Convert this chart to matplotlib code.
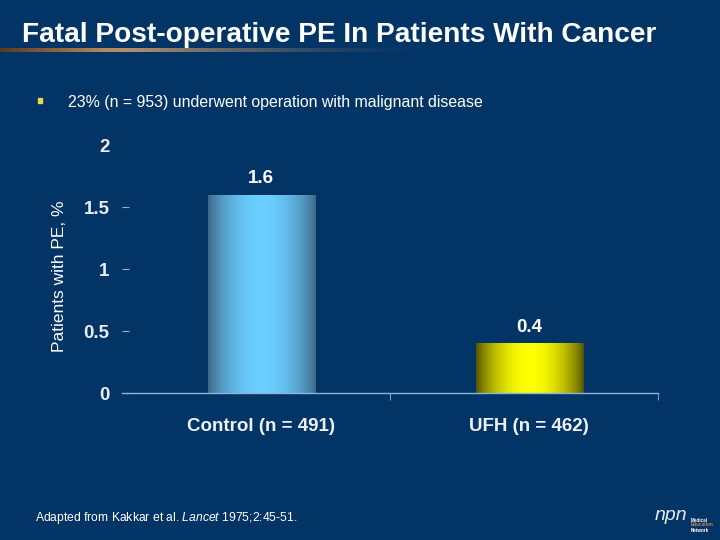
import numpy as np
import matplotlib
matplotlib.use("Agg")
import matplotlib.pyplot as plt
from matplotlib.colors import to_rgb

# ---- data ----
categories = ["Control (n = 491)", "UFH (n = 462)"]
values = [1.6, 0.4]
value_labels = ["1.6", "0.4"]
yticks = [0, 0.5, 1, 1.5, 2]
ytick_labels = ["0", "0.5", "1", "1.5", "2"]
title = "Fatal Post-operative PE In Patients With Cancer"
bullet_text = "23% (n = 953) underwent operation with malignant disease"
ylabel = "Patients with PE, %"

BG = "#033466"
plt.rcParams['font.family'] = ['Liberation Sans', 'DejaVu Sans']
plt.rcParams['mathtext.fontset'] = 'custom'
plt.rcParams['mathtext.it'] = 'Liberation Sans:italic'
plt.rcParams['mathtext.rm'] = 'Liberation Sans'

fig = plt.figure(figsize=(7.2, 5.4), dpi=100, facecolor=BG)

bg = fig.add_axes([0, 0, 1, 1], zorder=0)
bg.axis('off')

# title underline gradient
N = 400
u = np.linspace(0, 1, N)
line_rgb = np.zeros((1, N, 4))
c1 = np.array(to_rgb("#5a3a20"))
c2 = np.array(to_rgb("#c89a6a"))
mix = np.clip(u / 0.3, 0, 1)[:, None]
line_rgb[0, :, :3] = c1 * (1 - mix) + c2 * mix
alpha = np.where(u < 0.25, 1.0, np.clip(1 - (u - 0.25) / 0.75, 0, 1) ** 1.5)
line_rgb[0, :, 3] = alpha
bg.imshow(line_rgb, extent=[0, 430, 52, 48], aspect='auto', interpolation='bilinear')
bg.set_xlim(0, 720)
bg.set_ylim(540, 0)

fig.text(22 / 720, 1 - 35 / 540, title, color='white', fontsize=20.2,
         fontweight='bold', va='center', ha='left')

# bullet
bg.add_patch(plt.Rectangle((38, 98), 4, 5, color='#e8d84a'))
fig.text(68 / 720, 1 - 103 / 540, bullet_text, color='white', fontsize=11.4,
         va='center', ha='left')

# y label
fig.text(59 / 720, 1 - 276 / 540, ylabel, color='white', fontsize=12.5,
         rotation=90, va='center', ha='center')

# footnote
fig.text(35 / 720, 1 - 518 / 540,
         r"Adapted from Kakkar et al. $\it{Lancet}$ 1975;2:45-51.",
         color='white', fontsize=8.7, va='center', ha='left')

# logo approximation
fig.text(655 / 720, 1 - 515 / 540, "npn", color='white', fontsize=14,
         fontstyle='italic', va='center', ha='left', alpha=0.9)
fig.text(691 / 720, 1 - 520 / 540, "Medical", color='white',
         fontsize=3.3, fontweight='bold', va='center', ha='left')
fig.text(691 / 720, 1 - 525 / 540, "Education", color='#c8864a',
         fontsize=3.3, fontweight='bold', va='center', ha='left')
fig.text(691 / 720, 1 - 530 / 540, "Network", color='white',
         fontsize=3.3, fontweight='bold', va='center', ha='left')

# ---- main axes ----
ax = fig.add_axes([122 / 720, 1 - 393 / 540, 536 / 720, (393 - 145) / 540], zorder=1)
ax.set_facecolor('none')
x = np.arange(len(categories))
width = 0.4
bars = ax.bar(x + 0.02, values, width=width, color='none', edgecolor='none', zorder=2)

grad_specs = [("#3a6585", "#6ccfff"), ("#4e4e00", "#ffff00")]
M = 200
uu = np.linspace(0, 1, M)
prof = np.sin(np.pi * uu) ** 0.75
for b, (ce, cc) in zip(bars, grad_specs):
    e = np.array(to_rgb(ce)); c = np.array(to_rgb(cc))
    arr = (e[None, :] * (1 - prof[:, None]) + c[None, :] * prof[:, None])[None, :, :]
    x0 = b.get_x(); w = b.get_width(); h = b.get_height()
    im = ax.imshow(arr, extent=[x0, x0 + w, 0, h], aspect='auto', zorder=2,
                   interpolation='bilinear')
    im.set_clip_path(b)

for b, lab in zip(bars, value_labels):
    ax.text(b.get_x() + b.get_width() / 2, b.get_height() + 0.13, lab,
            color='white', fontsize=13.5, fontweight='bold', ha='center', va='center')

ax.set_xlim(-0.5, 1.5)
ax.set_ylim(0, 2)
ax.set_yticks(yticks)
ax.set_yticklabels(ytick_labels)
ax.set_xticks(x + 0.02)
ax.set_xticklabels(categories)
ax.set_xticks([0.5, 1.5], minor=True)

for s in ['top', 'right', 'left']:
    ax.spines[s].set_visible(False)
ax.spines['bottom'].set_color('#8ab4e0')
ax.spines['bottom'].set_linewidth(1)

ax.tick_params(axis='y', direction='in', length=5, color='#8ab4e0', pad=9,
               labelcolor='#e8ecf4', labelsize=13.5)
for lab in ax.get_yticklabels():
    lab.set_fontweight('bold')
ax.yaxis.get_major_ticks()[-1].tick1line.set_visible(False)
ax.tick_params(axis='x', which='major', length=0, pad=18, labelcolor='#eef2f8',
               labelsize=13.5)
for lab in ax.get_xticklabels():
    lab.set_fontweight('bold')
ax.tick_params(axis='x', which='minor', direction='out', length=5, color='#8ab4e0')

fig.savefig("out.png", dpi=100, facecolor=BG)
